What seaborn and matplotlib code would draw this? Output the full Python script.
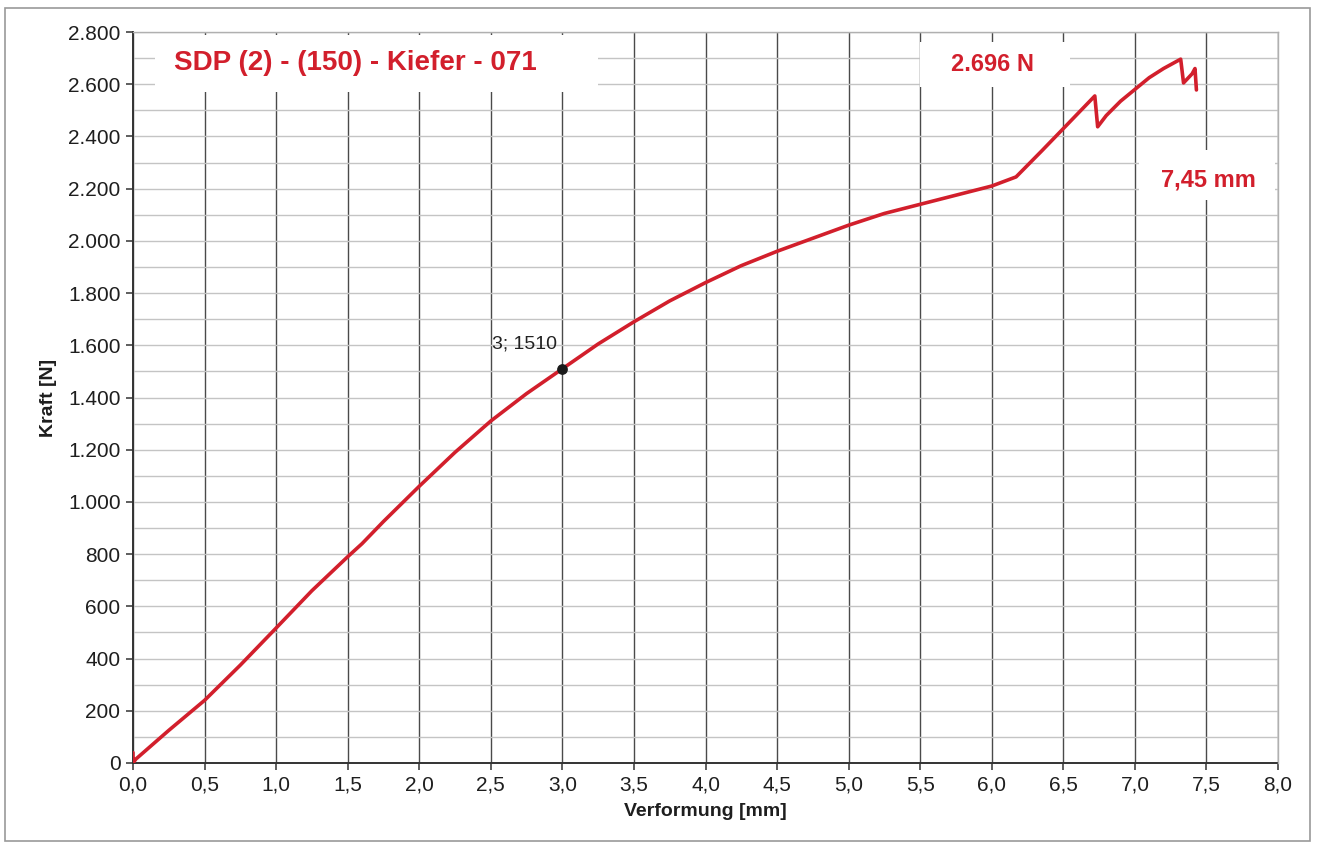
import matplotlib
matplotlib.use("Agg")
import matplotlib.pyplot as plt
import matplotlib.ticker as mticker
from matplotlib.patches import Rectangle
import seaborn as sns
import pandas as pd

# Load-deformation curve of the specimen
verformung_mm = [0.0, 0.0, 0.02, 0.25, 0.5, 0.75, 1.0, 1.25, 1.5, 1.6, 1.75, 2.0, 2.25, 2.5,
                 2.75, 3.0, 3.25, 3.5, 3.75, 4.0, 4.25, 4.5, 4.75, 5.0, 5.25, 5.5, 5.75,
                 6.0, 6.17, 6.35, 6.5, 6.72, 6.74, 6.8, 6.9, 7.0, 7.1, 7.2, 7.32, 7.34,
                 7.40, 7.42, 7.43]
kraft_n = [40, 0, 15, 125, 240, 375, 517, 660, 790, 840, 925, 1060, 1190, 1310,
           1415, 1510, 1605, 1690, 1770, 1840, 1905, 1960, 2010, 2060, 2105, 2140, 2175,
           2210, 2245, 2345, 2430, 2555, 2437, 2480, 2535, 2580, 2625, 2660, 2696, 2605,
           2640, 2660, 2578]

marker_x = [3.0]
marker_y = [1510]

titel = "SDP (2) - (150) - Kiefer - 071"
max_kraft_label = "2.696 N"
max_weg_label = "7,45 mm"

sns.set_theme(style="white")
plt.rcParams["font.family"] = ["Liberation Sans", "DejaVu Sans"]

fig = plt.figure(figsize=(13.19, 8.49), dpi=100)
ax = fig.add_axes([133 / 1319, 86 / 849, 1145 / 1319, 731 / 849])

df = pd.DataFrame({"Verformung": verformung_mm, "Kraft": kraft_n})
red = "#d21f2c"
sns.lineplot(data=df, x="Verformung", y="Kraft", sort=False, estimator=None,
             color=red, linewidth=2.6, ax=ax, zorder=5)
ax.scatter(marker_x, marker_y, color="#1a1a1a", s=45, zorder=6)
ax.annotate(f"{marker_x[0]:g}; {marker_y[0]}", (marker_x[0], marker_y[0]),
            xytext=(-4, 12), textcoords="offset points", ha="right", va="bottom",
            fontsize=14, color="#222222", zorder=7)

ax.set_xlim(0, 8.0)
ax.set_ylim(0, 2800)
ax.xaxis.set_major_locator(mticker.MultipleLocator(0.5))
ax.yaxis.set_major_locator(mticker.MultipleLocator(200))
ax.yaxis.set_minor_locator(mticker.MultipleLocator(100))
ax.xaxis.set_major_formatter(mticker.FuncFormatter(lambda v, p: f"{v:.1f}".replace(".", ",")))
ax.yaxis.set_major_formatter(mticker.FuncFormatter(lambda v, p: f"{int(v):,}".replace(",", ".")))

ax.grid(False)
ax.grid(axis="x", which="major", color="#4a4a4a", linewidth=1.0, zorder=1)
ax.grid(axis="y", which="both", color="#c4c4c4", linewidth=1.0, zorder=1)
ax.set_axisbelow(True)

for side in ["top", "right"]:
    ax.spines[side].set_color("#b0b0b0")
    ax.spines[side].set_linewidth(1.0)
    ax.spines[side].set_zorder(4)
for side in ["left", "bottom"]:
    ax.spines[side].set_color("#333333")
    ax.spines[side].set_linewidth(1.4)

ax.tick_params(axis="both", which="major", direction="out", length=5, width=1.1,
               color="#333333", labelsize=15, labelcolor="#1e1e1e", pad=4,
               left=True, bottom=True)
ax.tick_params(axis="y", which="minor", length=0)

ax.set_xlabel("Verformung [mm]", fontsize=14, fontweight="bold", color="#1e1e1e", labelpad=6)
ax.set_ylabel("Kraft [N]", fontsize=14, fontweight="bold", color="#1e1e1e", labelpad=8)

# white label panels (axes fractions) that hide the grid behind the texts
panels = [
    (0.0192, 0.918, 0.387, 0.078),
    (0.687, 0.925, 0.131, 0.061),
    (0.879, 0.770, 0.118, 0.069),
]
for x0, y0, w, h in panels:
    ax.add_patch(Rectangle((x0, y0), w, h, transform=ax.transAxes,
                           facecolor="white", edgecolor="none", zorder=3))

ax.text(0.1945, 0.958, titel, transform=ax.transAxes, fontsize=20, fontweight="bold",
        color=red, ha="center", va="center", zorder=8)
ax.text(0.751, 0.955, max_kraft_label, transform=ax.transAxes, fontsize=17,
        fontweight="bold", color=red, ha="center", va="center", zorder=8)
ax.text(0.939, 0.797, max_weg_label, transform=ax.transAxes, fontsize=17,
        fontweight="bold", color=red, ha="center", va="center", zorder=8)

# light outer frame around the chart area
fig.patches.append(Rectangle((5 / 1319, 8 / 849), 1305 / 1319, 833 / 849,
                             transform=fig.transFigure, fill=False,
                             edgecolor="#9a9a9a", linewidth=1.2))

fig.savefig("out.png", dpi=100, facecolor="white")
